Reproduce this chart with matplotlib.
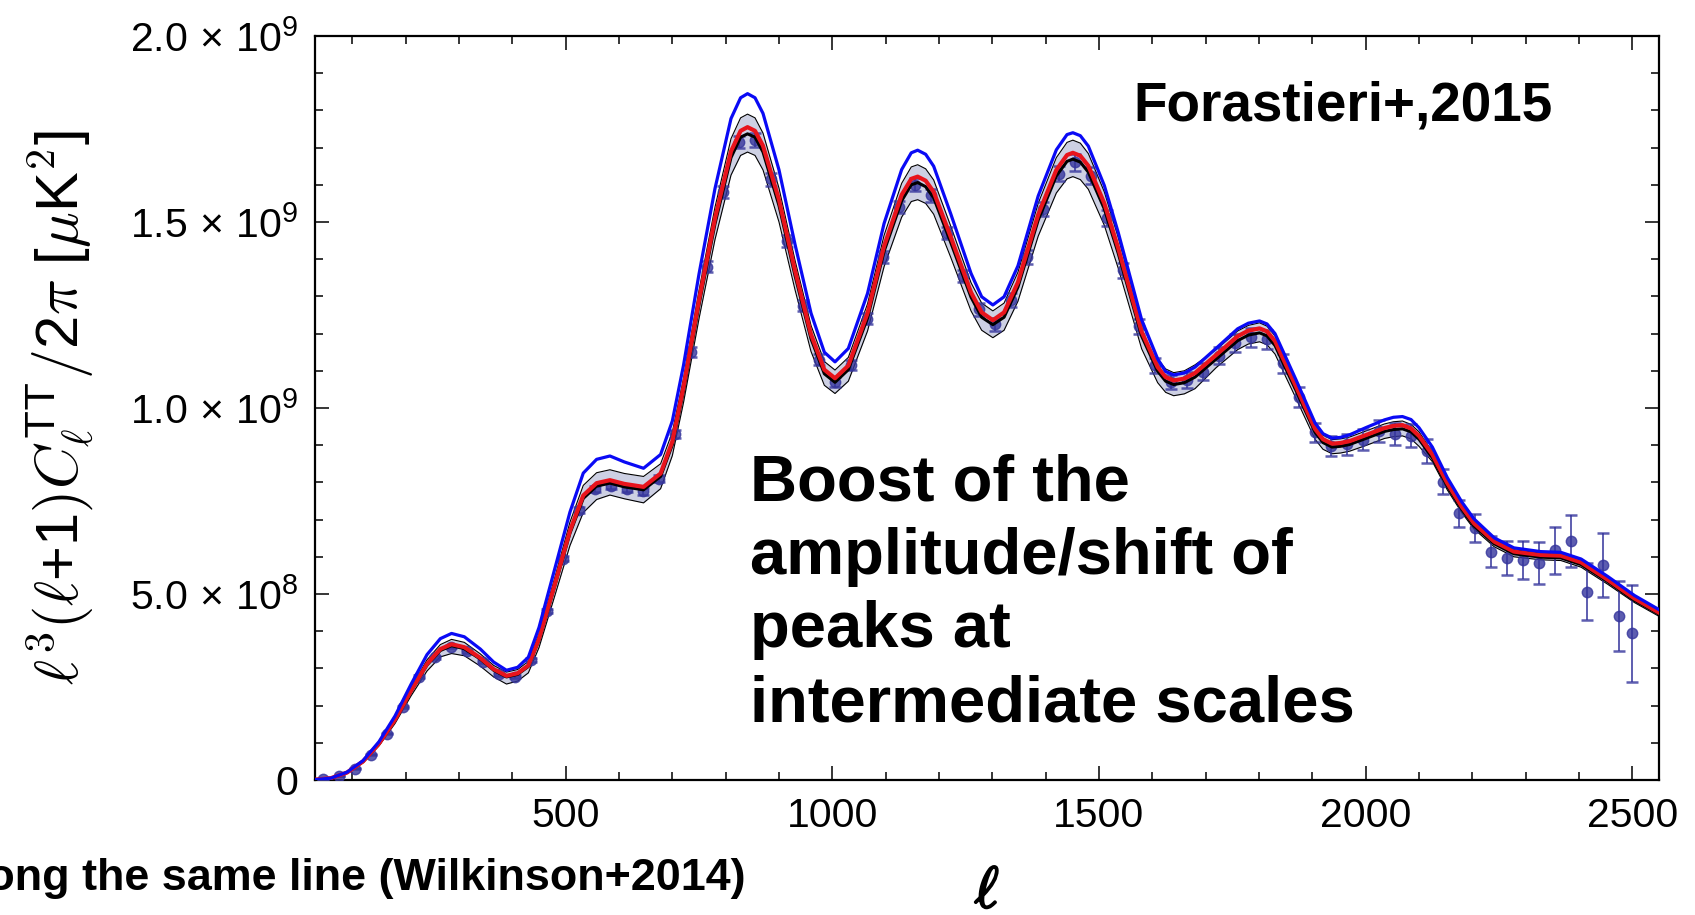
import matplotlib
matplotlib.use('Agg')
import matplotlib.pyplot as plt
import matplotlib.patheffects as pe
from matplotlib.ticker import MultipleLocator

plt.rcParams['font.family'] = ['Liberation Sans', 'DejaVu Sans']
plt.rcParams['mathtext.fontset'] = 'custom'
plt.rcParams['mathtext.rm'] = 'Liberation Sans'
plt.rcParams['mathtext.it'] = 'Liberation Sans:italic'
plt.rcParams['mathtext.bf'] = 'Liberation Sans:bold'

# model curves, y in units of 1e8 muK^2
ell_model = [30, 60, 90, 120, 150, 180, 210, 240, 265, 286,
             310, 340, 365, 389, 410, 430, 450, 480, 508, 533,
             558, 583, 610, 646, 678, 700, 721, 750, 780, 810,
             828, 841, 855, 870, 900, 930, 960, 985, 1005, 1030,
             1066, 1097, 1130, 1148, 1160, 1175, 1190, 1222, 1260, 1280, 1301, 1322,
             1348, 1386, 1420, 1440, 1451, 1465, 1480, 1510, 1536, 1580,
             1610, 1625, 1640, 1660, 1680, 1720, 1760, 1780, 1801, 1815, 1830, 1869, 1905, 1920, 1937, 1953,
             1970, 2000, 2035, 2052, 2069, 2085, 2100, 2125, 2153, 2180, 2203, 2241,
             2278, 2328, 2366, 2404, 2454, 2504, 2550]

red_model = [0.01, 0.05, 0.20, 0.50, 0.98, 1.62, 2.40, 3.12, 3.52, 3.65,
             3.57, 3.28, 2.98, 2.80, 2.87, 3.08, 3.80, 5.28, 6.70, 7.65,
             7.98, 8.06, 7.96, 7.88, 8.24, 9.10, 10.57, 12.90, 15.10, 16.90,
             17.45, 17.55, 17.45, 17.05, 15.60, 13.70, 11.98, 11.03, 10.80, 11.14,
             12.55, 14.35, 15.73, 16.16, 16.22, 16.11, 15.81, 14.60, 13.11, 12.57, 12.36, 12.57,
             13.38, 15.20, 16.40, 16.80, 16.86, 16.78, 16.51, 15.50, 14.30, 12.05,
             11.10, 10.83, 10.74, 10.79, 10.94, 11.43, 11.93, 12.08, 12.14, 12.06, 11.80, 10.59, 9.44, 9.16, 9.04, 9.06,
             9.11, 9.27, 9.46, 9.52, 9.54, 9.45, 9.25, 8.75, 7.98, 7.35, 6.90, 6.41,
             6.14, 6.05, 6.03, 5.85, 5.38, 4.88, 4.50]

black_model = [0.01, 0.05, 0.20, 0.49, 0.97, 1.60, 2.38, 3.09, 3.48, 3.61,
               3.53, 3.25, 2.95, 2.77, 2.84, 3.05, 3.76, 5.23, 6.63, 7.57,
               7.90, 7.98, 7.88, 7.80, 8.16, 9.01, 10.46, 12.77, 14.95, 16.73,
               17.28, 17.37, 17.28, 16.88, 15.44, 13.56, 11.86, 10.92, 10.69, 11.03,
               12.42, 14.21, 15.57, 16.00, 16.06, 15.95, 15.65, 14.45, 12.98, 12.44, 12.24, 12.44,
               13.25, 15.05, 16.24, 16.63, 16.69, 16.61, 16.34, 15.35, 14.16, 11.93,
               10.99, 10.72, 10.63, 10.68, 10.83, 11.32, 11.81, 11.96, 12.02, 11.94, 11.68, 10.48, 9.35, 9.07, 8.95, 8.97,
               9.02, 9.18, 9.37, 9.42, 9.44, 9.36, 9.16, 8.66, 7.90, 7.28, 6.83, 6.35,
               6.08, 5.99, 5.97, 5.79, 5.33, 4.83, 4.46]

blue_model = [0.01, 0.05, 0.21, 0.52, 1.03, 1.72, 2.57, 3.37, 3.80, 3.94,
              3.85, 3.52, 3.17, 2.95, 3.03, 3.30, 4.10, 5.70, 7.20, 8.25,
              8.62, 8.71, 8.55, 8.38, 8.75, 9.65, 11.15, 13.60, 15.90, 17.78,
              18.34, 18.45, 18.34, 17.92, 16.40, 14.40, 12.55, 11.50, 11.24, 11.60,
              13.08, 14.96, 16.41, 16.86, 16.93, 16.82, 16.50, 15.22, 13.62, 12.99, 12.77, 12.99,
              13.82, 15.70, 16.94, 17.35, 17.40, 17.32, 17.04, 15.98, 14.72, 12.37,
              11.32, 10.98, 10.89, 10.94, 11.10, 11.61, 12.13, 12.28, 12.34, 12.26, 12.00, 10.77, 9.60, 9.31, 9.19, 9.21,
              9.28, 9.47, 9.68, 9.75, 9.77, 9.69, 9.47, 8.95, 8.13, 7.48, 7.02, 6.51,
              6.24, 6.14, 6.12, 5.94, 5.47, 4.96, 4.58]

band_hi = [0.01, 0.05, 0.21, 0.52, 1.01, 1.68, 2.48, 3.23, 3.64, 3.78,
           3.70, 3.39, 3.08, 2.90, 2.97, 3.19, 3.93, 5.46, 6.93, 7.92,
           8.26, 8.34, 8.24, 8.16, 8.50, 9.35, 10.80, 13.16, 15.40, 17.24,
           17.80, 17.90, 17.80, 17.39, 15.91, 13.97, 12.22, 11.25, 11.02, 11.36,
           12.80, 14.64, 16.04, 16.48, 16.54, 16.43, 16.13, 14.89, 13.37, 12.82, 12.61, 12.82,
           13.65, 15.50, 16.73, 17.14, 17.20, 17.12, 16.84, 15.81, 14.59, 12.29,
           11.32, 11.05, 10.95, 11.00, 11.16, 11.57, 12.07, 12.22, 12.29, 12.20, 11.94, 10.72, 9.55, 9.27, 9.15, 9.17,
           9.22, 9.38, 9.57, 9.63, 9.65, 9.56, 9.36, 8.82, 8.04, 7.41, 6.96, 6.46,
           6.19, 6.10, 6.08, 5.90, 5.42, 4.92, 4.54]

band_lo = [0.00, 0.04, 0.18, 0.47, 0.92, 1.52, 2.26, 2.93, 3.31, 3.40,
           3.34, 3.06, 2.77, 2.58, 2.66, 2.88, 3.56, 4.97, 6.30, 7.19,
           7.54, 7.66, 7.56, 7.45, 7.83, 8.72, 10.15, 12.40, 14.53, 16.26,
           16.79, 16.88, 16.79, 16.40, 15.00, 13.18, 11.52, 10.61, 10.39, 10.72,
           12.07, 13.80, 15.13, 15.55, 15.60, 15.50, 15.21, 14.05, 12.61, 12.09, 11.89, 12.09,
           12.87, 14.62, 15.78, 16.16, 16.22, 16.14, 15.88, 14.91, 13.76, 11.59,
           10.68, 10.42, 10.33, 10.38, 10.52, 11.09, 11.57, 11.72, 11.78, 11.70, 11.45, 10.27, 9.16, 8.89, 8.77, 8.79,
           8.84, 8.99, 9.18, 9.23, 9.25, 9.17, 8.97, 8.56, 7.80, 7.19, 6.75, 6.27,
           6.00, 5.92, 5.90, 5.72, 5.26, 4.77, 4.40]

# binned data points
ell_data = [44.5, 74.5, 104.5, 134.5, 164.5, 194.5, 224.5, 254.5, 284.5, 314.5,
            344.5, 374.5, 404.5, 434.5, 464.5, 494.5, 524.5, 554.5, 584.5, 614.5,
            644.5, 674.5, 704.5, 734.5, 764.5, 794.5, 824.5, 854.5, 884.5, 914.5,
            944.5, 974.5, 1004.5, 1034.5, 1064.5, 1094.5, 1124.5, 1154.5, 1184.5, 1214.5,
            1244.5, 1274.5, 1304.5, 1334.5, 1364.5, 1394.5, 1424.5, 1454.5, 1484.5, 1514.5,
            1544.5, 1574.5, 1604.5, 1634.5, 1664.5, 1694.5, 1724.5, 1754.5, 1784.5, 1814.5,
            1844.5, 1874.5, 1904.5, 1934.5, 1964.5, 1994.5, 2024.5, 2054.5, 2084.5, 2114.5,
            2144.5, 2174.5, 2204.5, 2234.5, 2264.5, 2294.5, 2324.5, 2354.5, 2384.5, 2414.5,
            2444.5, 2474.5, 2499.5]

cl_data = [0.02, 0.11, 0.30, 0.68, 1.25, 1.97, 2.78, 3.30, 3.58, 3.46,
           3.18, 2.84, 2.78, 3.22, 4.55, 5.95, 7.25, 7.82, 7.90, 7.82,
           7.76, 8.10, 9.30, 11.50, 13.80, 15.80, 17.15, 17.20, 16.15, 14.50,
           12.75, 11.30, 10.70, 11.15, 12.40, 14.05, 15.40, 16.00, 15.72, 14.70,
           13.55, 12.65, 12.25, 12.90, 14.05, 15.35, 16.30, 16.60, 16.25, 15.10,
           13.70, 12.20, 11.15, 10.70, 10.75, 10.98, 11.40, 11.75, 11.90, 11.85,
           11.20, 10.30, 9.35, 8.98, 9.02, 9.15, 9.38, 9.30, 9.25, 8.85,
           8.02, 7.17, 6.77, 6.14, 5.96, 5.91, 5.84, 6.18, 6.43, 5.06,
           5.78, 4.41, 3.94]

cl_err = [0.005, 0.01, 0.015, 0.02, 0.025, 0.03, 0.035, 0.04, 0.04, 0.04,
          0.04, 0.04, 0.04, 0.05, 0.06, 0.07, 0.08, 0.09, 0.09, 0.09,
          0.09, 0.10, 0.11, 0.13, 0.15, 0.16, 0.17, 0.18, 0.17, 0.16,
          0.15, 0.14, 0.14, 0.14, 0.15, 0.16, 0.17, 0.18, 0.18, 0.17,
          0.17, 0.17, 0.17, 0.18, 0.19, 0.20, 0.21, 0.22, 0.22, 0.22,
          0.21, 0.20, 0.20, 0.20, 0.21, 0.22, 0.23, 0.24, 0.25, 0.26,
          0.26, 0.26, 0.26, 0.26, 0.27, 0.28, 0.29, 0.30, 0.31, 0.32,
          0.33, 0.36, 0.38, 0.42, 0.46, 0.51, 0.57, 0.63, 0.70, 0.76,
          0.86, 0.95, 1.30]

yticks = [0, 5, 10, 15, 20]
ytick_labels = ['0',
                r'5.0$\,\times\,$10$^{\mathrm{8}}$',
                r'1.0$\,\times\,$10$^{\mathrm{9}}$',
                r'1.5$\,\times\,$10$^{\mathrm{9}}$',
                r'2.0$\,\times\,$10$^{\mathrm{9}}$']
xticks = [500, 1000, 1500, 2000, 2500]

fig = plt.figure(figsize=(16.95, 9.15), dpi=100)
ax = fig.add_axes([315/1695, 135/915, 1344/1695, 744/915])

ax.fill_between(ell_model, band_lo, band_hi, color='#cdd0e3', lw=0, zorder=1)
ax.plot(ell_model, band_lo, color='k', lw=0.8, zorder=2)
ax.plot(ell_model, band_hi, color='k', lw=0.8, zorder=2)
ax.errorbar(ell_data, cl_data, yerr=cl_err, fmt='o', ms=7.5, color='#35359c', alpha=0.8,
            elinewidth=1.4, capsize=4.5, capthick=1.8, zorder=3)
ax.plot(ell_model, black_model, color='k', lw=2.2, zorder=4)
ax.plot(ell_model, red_model, color='#e8141c', lw=3.0, zorder=5)
ax.plot(ell_model, blue_model, color='#0a0af5', lw=2.3, zorder=6)

ax.set_xlim(30, 2550)
ax.set_ylim(0, 20)
ax.set_xticks(xticks)
ax.set_yticks(yticks)
ax.set_yticklabels(ytick_labels)
ax.xaxis.set_minor_locator(MultipleLocator(100))
ax.yaxis.set_minor_locator(MultipleLocator(1))
ax.tick_params(which='both', direction='in', top=True, right=True, width=1.1)
ax.tick_params(which='major', length=10, labelsize=29.5, pad=12)
ax.tick_params(which='minor', length=5.5)
for sp in ax.spines.values():
    sp.set_linewidth(1.6)

ax.set_ylabel(r'$\ell^{\mathsf{3}}(\ell$+1$)C_\ell^{\mathsf{TT}}/$2$\pi$ [$\mu$K$^{\mathsf{2}}$]',
              fontsize=43, math_fontfamily='cm')
ax.yaxis.set_label_coords(-0.163, 0.5)
xl = ax.set_xlabel(r'$\ell$', fontsize=42, math_fontfamily='cm')
xl.set_path_effects([pe.withStroke(linewidth=1.6, foreground='k')])
ax.xaxis.set_label_coords(0.5, -0.115)

ax.text(0.609, 0.886, 'Forastieri+,2015', transform=ax.transAxes, fontsize=39.5,
        fontweight='bold', ha='left', va='baseline')
ax.text(0.3237, 0.0793, 'Boost of the\namplitude/shift of\npeaks at\nintermediate scales',
        transform=ax.transAxes, fontsize=47, fontweight='bold', linespacing=1.29,
        ha='left', va='baseline')
fig.text(746/1695, 25/915, 'along the same line (Wilkinson+2014)', fontsize=32.3,
         fontweight='bold', ha='right', va='baseline')

fig.savefig('out.png', dpi=100)
